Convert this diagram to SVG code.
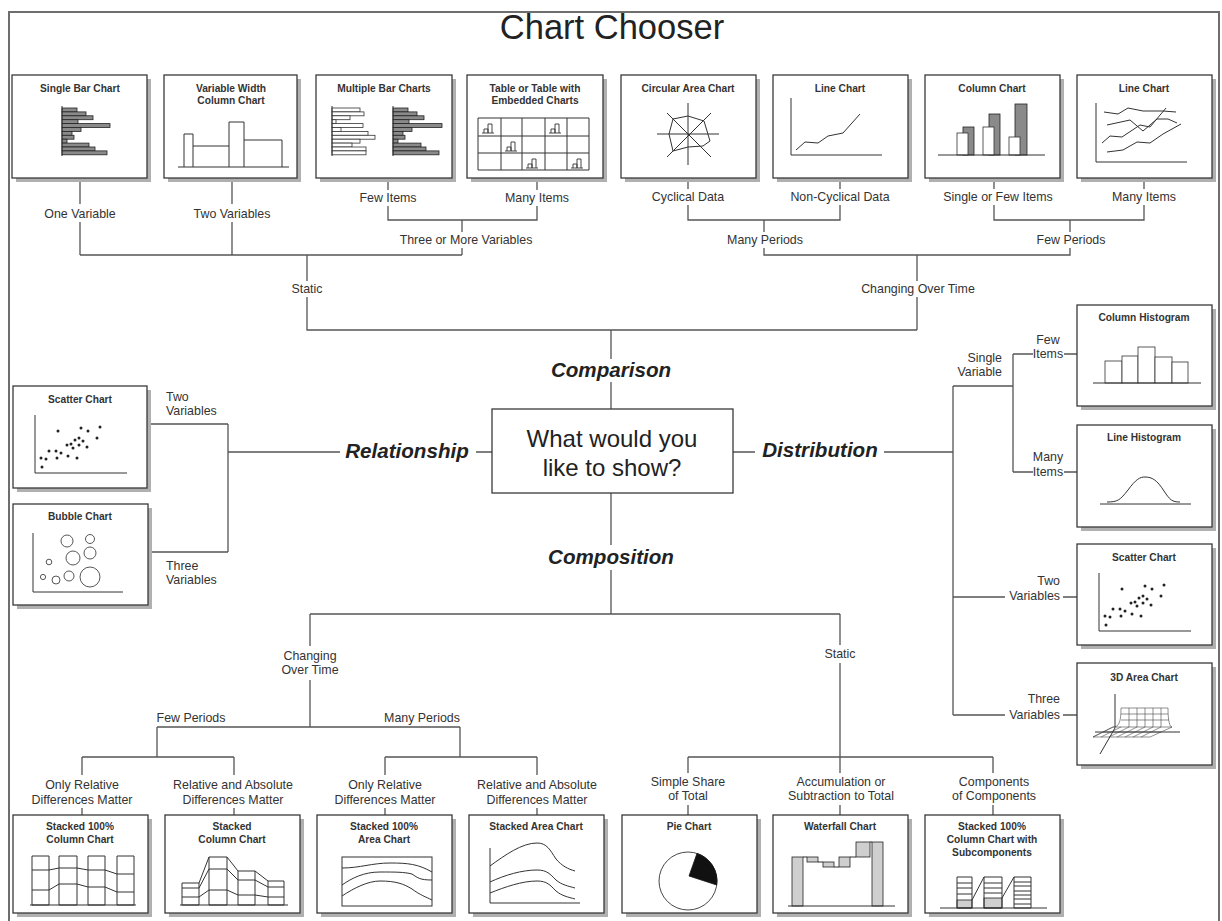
<svg xmlns="http://www.w3.org/2000/svg" width="1222" height="921" viewBox="0 0 1222 921">
<style>
.frame{fill:none;stroke:#6e6e6e;stroke-width:2}
.sh{fill:#b0b0b0}
.bx{fill:#fff;stroke:#3a3a3a;stroke-width:1.3}
.tt{font-family:"Liberation Sans",Arial,sans-serif;font-weight:bold;font-size:10.2px;fill:#333;text-anchor:middle}
.lb{font-family:"Liberation Sans",Arial,sans-serif;font-size:12.4px;fill:#333;text-anchor:middle}
.lr{font-family:"Liberation Sans",Arial,sans-serif;font-size:12.4px;fill:#333;text-anchor:end}
.ll{font-family:"Liberation Sans",Arial,sans-serif;font-size:12.4px;fill:#333;text-anchor:start}
.cat{font-family:"Liberation Sans",Arial,sans-serif;font-weight:bold;font-style:italic;font-size:20.6px;fill:#222;text-anchor:middle}
.q{font-family:"Liberation Sans",Arial,sans-serif;font-size:24px;fill:#222;text-anchor:middle}
.ln{fill:none;stroke:#555;stroke-width:1.3}
.c{fill:none;stroke:#333;stroke-width:1}
.cw{fill:#fff;stroke:#333;stroke-width:0.8}
.cg{fill:#8a8a8a;stroke:#222;stroke-width:0.8}
.cl{fill:#cfcfcf;stroke:#222;stroke-width:0.8}
.d{fill:#222}
</style>
<defs>
<g id="ico"><path d="M0 9 H12 M2 9 V5 H6 V9 M6 9 V0 H10 V9" fill="none" stroke="#333" stroke-width="0.9"/></g>
<g id="dots">
<circle class="d" cx="58" cy="431" r="1.5"/><circle class="d" cx="81" cy="428" r="1.5"/><circle class="d" cx="88" cy="431" r="1.5"/><circle class="d" cx="100" cy="427" r="1.5"/><circle class="d" cx="97" cy="438" r="1.5"/><circle class="d" cx="79" cy="438" r="1.5"/><circle class="d" cx="75" cy="440" r="1.5"/><circle class="d" cx="83" cy="441" r="1.5"/><circle class="d" cx="87" cy="447" r="1.5"/><circle class="d" cx="71" cy="444" r="1.5"/><circle class="d" cx="67" cy="445" r="1.5"/><circle class="d" cx="73" cy="448" r="1.5"/><circle class="d" cx="79" cy="445" r="1.5"/><circle class="d" cx="61" cy="453" r="1.5"/><circle class="d" cx="56" cy="451" r="1.5"/><circle class="d" cx="49" cy="451" r="1.5"/><circle class="d" cx="41" cy="458" r="1.5"/><circle class="d" cx="46" cy="459" r="1.5"/><circle class="d" cx="57" cy="458" r="1.5"/><circle class="d" cx="68" cy="456" r="1.5"/><circle class="d" cx="77" cy="458" r="1.5"/><circle class="d" cx="42" cy="467" r="1.5"/>
<path class="c" d="M35 415 V473 H127"/>
</g>
</defs>
<rect width="1222" height="921" fill="#fff"/>
<path class="frame" d="M9 921 V12 H1219 V921"/>
<text x="612" y="39" font-family="Liberation Sans,Arial,sans-serif" font-size="34.5" fill="#222" text-anchor="middle">Chart Chooser</text>

<g id="connectors">
<path class="ln" d="M80 178 V204 M80 222 V255 M232 178 V204 M232 222 V255 M388 178 V190 M388 206 V220 H537 V206 M537 190 V178 M462 220 V232 M462 248 V255 M80 255 H462 M307 255 V281 M307 297 V330 H917 M611 330 V359 M611 382 V409 M688 178 V189 M688 205 V220 H840 V205 M840 189 V178 M764 220 V232 M764 248 V255 H1070 V248 M1070 232 V220 M994 178 V189 M994 205 V220 H1144 V205 M1144 189 V178 M917 255 V281 M917 297 V330"/>
<path class="ln" d="M492 452 H476 M340 452 H228 M228 424 V552 M147 424 H228 M148 552 H228"/>
<path class="ln" d="M733 452 H755 M884 452 H953 M953 386 V715 M953 386 H1013 M1013 354 V472 M1013 354 H1033 M1064 354 H1077 M1013 472 H1033 M1064 472 H1077 M953 597 H1005 M1063 597 H1077 M953 715 H1005 M1063 715 H1077"/>
<path class="ln" d="M611 493 V545 M611 570 V614 M310 614 H840 M310 614 V646 M310 680 V727 M157 727 H460 M157 727 V757 M460 727 V757 M82 757 H234 M385 757 H537 M82 757 V775 M82 808 V815 M234 757 V775 M234 808 V815 M385 757 V775 M385 808 V815 M537 757 V775 M537 808 V815 M840 614 V645 M840 663 V757 M688 757 H993 M688 757 V773 M688 805 V815 M840 757 V773 M840 805 V815 M993 757 V773 M993 805 V815"/>
<text class="lb" x="80" y="218">One Variable</text>
<text class="lb" x="232" y="218">Two Variables</text>
<text class="lb" x="388" y="202">Few Items</text>
<text class="lb" x="537" y="202">Many Items</text>
<text class="lb" x="466" y="244">Three or More Variables</text>
<text class="lb" x="688" y="201">Cyclical Data</text>
<text class="lb" x="840" y="201">Non-Cyclical Data</text>
<text class="lb" x="998" y="201">Single or Few Items</text>
<text class="lb" x="1144" y="201">Many Items</text>
<text class="lb" x="765" y="244">Many Periods</text>
<text class="lb" x="1071" y="244">Few Periods</text>
<text class="lb" x="307" y="293">Static</text>
<text class="lb" x="918" y="293">Changing Over Time</text>
<text class="cat" x="611" y="377">Comparison</text>
<text class="cat" x="407" y="458">Relationship</text>
<text class="cat" x="820" y="457">Distribution</text>
<text class="cat" x="611" y="564">Composition</text>
<text class="ll" x="166" y="401">Two</text>
<text class="ll" x="166" y="415">Variables</text>
<text class="ll" x="166" y="570">Three</text>
<text class="ll" x="166" y="584">Variables</text>
<text class="lr" x="1002" y="362">Single</text>
<text class="lr" x="1002" y="376">Variable</text>
<text class="lb" x="1048" y="344">Few</text>
<text class="lb" x="1048" y="358">Items</text>
<text class="lb" x="1048" y="461">Many</text>
<text class="lb" x="1048" y="476">Items</text>
<text class="lr" x="1060" y="585">Two</text>
<text class="lr" x="1060" y="600">Variables</text>
<text class="lr" x="1060" y="703">Three</text>
<text class="lr" x="1060" y="719">Variables</text>
<text class="lb" x="310" y="660">Changing</text>
<text class="lb" x="310" y="674">Over Time</text>
<text class="lb" x="191" y="722">Few Periods</text>
<text class="lb" x="422" y="722">Many Periods</text>
<text class="lb" x="840" y="658">Static</text>
<text class="lb" x="82" y="789">Only Relative</text>
<text class="lb" x="82" y="804">Differences Matter</text>
<text class="lb" x="233" y="789">Relative and Absolute</text>
<text class="lb" x="233" y="804">Differences Matter</text>
<text class="lb" x="385" y="789">Only Relative</text>
<text class="lb" x="385" y="804">Differences Matter</text>
<text class="lb" x="537" y="789">Relative and Absolute</text>
<text class="lb" x="537" y="804">Differences Matter</text>
<text class="lb" x="688" y="786">Simple Share</text>
<text class="lb" x="688" y="800">of Total</text>
<text class="lb" x="841" y="786">Accumulation or</text>
<text class="lb" x="841" y="800">Subtraction to Total</text>
<text class="lb" x="994" y="786">Components</text>
<text class="lb" x="994" y="800">of Components</text>
</g>

<g id="center">
<rect class="bx" x="492" y="409" width="241" height="84"/>
<text class="q" x="612" y="447">What would you</text>
<text class="q" x="612" y="476">like to show?</text>
</g>

<g id="single-bar">
<rect class="sh" x="16" y="79" width="135" height="103"/><rect class="bx" x="12" y="75" width="135" height="103"/>
<text class="tt" x="80" y="92">Single Bar Chart</text>
<rect class="cg" x="62" y="108" width="15" height="3.9"/><rect class="cg" x="62" y="111.9" width="24" height="3.9"/><rect class="cg" x="62" y="115.8" width="31" height="3.9"/><rect class="cg" x="62" y="119.7" width="16" height="3.9"/><rect class="cg" x="62" y="123.6" width="48" height="3.9"/><rect class="cg" x="62" y="127.5" width="19" height="3.9"/><rect class="cg" x="62" y="131.4" width="10" height="3.9"/><rect class="cg" x="62" y="135.3" width="12" height="3.9"/><rect class="cg" x="62" y="139.2" width="5" height="3.9"/><rect class="cg" x="62" y="143.1" width="27" height="3.9"/><rect class="cg" x="62" y="147" width="33" height="3.9"/><rect class="cg" x="62" y="150.9" width="45" height="3.9"/>
<path class="c" d="M62 106 V156"/>
</g>

<g id="variable-width">
<rect class="sh" x="168" y="79" width="133" height="103"/><rect class="bx" x="164" y="75" width="133" height="103"/>
<text class="tt" x="231" y="92">Variable Width</text><text class="tt" x="231" y="104">Column Chart</text>
<path class="c" d="M184 167 V134 H193 V167 M193 146 H229 M229 167 V122 H244 V167 M244 140 H282 V167 M178 167 H289"/>
</g>

<g id="multiple-bar">
<rect class="sh" x="320" y="79" width="136" height="103"/><rect class="bx" x="316" y="75" width="136" height="103"/>
<text class="tt" x="384" y="92">Multiple Bar Charts</text>
<rect class="cw" x="332" y="108" width="28" height="3.9"/><rect class="cw" x="332" y="111.9" width="32" height="3.9"/><rect class="cw" x="332" y="115.8" width="18" height="3.9"/><rect class="cw" x="332" y="119.7" width="4" height="3.9"/><rect class="cw" x="332" y="123.6" width="31" height="3.9"/><rect class="cw" x="332" y="127.5" width="9" height="3.9"/><rect class="cw" x="332" y="131.4" width="36" height="3.9"/><rect class="cw" x="332" y="135.3" width="43" height="3.9"/><rect class="cw" x="332" y="139.2" width="28" height="3.9"/><rect class="cw" x="332" y="143.1" width="20" height="3.9"/><rect class="cw" x="332" y="147" width="34" height="3.9"/><rect class="cw" x="332" y="150.9" width="34" height="3.9"/>
<path class="c" d="M332 106 V156"/>
<rect class="cg" x="393" y="108" width="15" height="3.9"/><rect class="cg" x="393" y="111.9" width="24" height="3.9"/><rect class="cg" x="393" y="115.8" width="31" height="3.9"/><rect class="cg" x="393" y="119.7" width="16" height="3.9"/><rect class="cg" x="393" y="123.6" width="49" height="3.9"/><rect class="cg" x="393" y="127.5" width="19" height="3.9"/><rect class="cg" x="393" y="131.4" width="10" height="3.9"/><rect class="cg" x="393" y="135.3" width="12" height="3.9"/><rect class="cg" x="393" y="139.2" width="5" height="3.9"/><rect class="cg" x="393" y="143.1" width="28" height="3.9"/><rect class="cg" x="393" y="147" width="33" height="3.9"/><rect class="cg" x="393" y="150.9" width="46" height="3.9"/>
<path class="c" d="M393 106 V156"/>
</g>

<g id="table">
<rect class="sh" x="471" y="79" width="136" height="103"/><rect class="bx" x="467" y="75" width="136" height="103"/>
<text class="tt" x="535" y="92">Table or Table with</text><text class="tt" x="535" y="104">Embedded Charts</text>
<path class="c" d="M478 118 H589 V170 H478 Z M501 118 V170 M522 118 V170 M545 118 V170 M567 118 V170 M478 136 H589 M478 153 H589"/>
<use href="#ico" x="482" y="124"/><use href="#ico" x="549" y="124"/><use href="#ico" x="505" y="142"/><use href="#ico" x="526" y="159"/><use href="#ico" x="571" y="159"/>
</g>

<g id="circular-area">
<rect class="sh" x="625" y="79" width="135" height="103"/><rect class="bx" x="621" y="75" width="135" height="103"/>
<text class="tt" x="688" y="92">Circular Area Chart</text>
<path class="c" d="M688 103 V165 M657 134 H719 M667 113 L711 157 M711 113 L667 157"/>
<polygon class="c" points="673,119 688,116 704,121 710,141 703,146 688,147 673,151 669,134"/>
</g>

<g id="line-chart-1">
<rect class="sh" x="777" y="79" width="135" height="103"/><rect class="bx" x="773" y="75" width="135" height="103"/>
<text class="tt" x="840" y="92">Line Chart</text>
<path class="c" d="M791 98 V155 H882"/>
<polyline class="c" points="796,150 805,142 818,143 828,136 843,133 860,114"/>
</g>

<g id="column-chart">
<rect class="sh" x="929" y="79" width="135" height="103"/><rect class="bx" x="925" y="75" width="135" height="103"/>
<text class="tt" x="992" y="92">Column Chart</text>
<rect class="cg" x="963" y="127" width="11" height="28"/><rect class="cw" x="957" y="133" width="11" height="22"/>
<rect class="cg" x="989" y="114" width="11" height="41"/><rect class="cw" x="983" y="127" width="11" height="28"/>
<rect class="cg" x="1015" y="104" width="12" height="51"/><rect class="cw" x="1009" y="137" width="11" height="18"/>
<path class="c" d="M938 155 H1045"/>
</g>

<g id="line-chart-2">
<rect class="sh" x="1081" y="79" width="135" height="103"/><rect class="bx" x="1077" y="75" width="135" height="103"/>
<text class="tt" x="1144" y="92">Line Chart</text>
<path class="c" d="M1096 103 V162 H1187"/>
<polyline class="c" points="1104,112 1118,114 1128,108 1143,111 1163,111 1176,112"/>
<polyline class="c" points="1107,125 1130,120 1143,131 1157,119 1168,119 1177,123"/>
<polyline class="c" points="1102,143 1110,136 1122,137 1140,125 1150,127 1166,108"/>
<polyline class="c" points="1107,152 1123,150 1137,142 1150,143 1163,134 1181,124"/>
</g>

<g id="scatter-left">
<rect class="sh" x="17" y="390" width="134" height="102"/><rect class="bx" x="13" y="386" width="134" height="102"/>
<text class="tt" x="80" y="403">Scatter Chart</text>
<use href="#dots"/>
</g>

<g id="bubble">
<rect class="sh" x="17" y="508" width="135" height="101"/><rect class="bx" x="13" y="504" width="135" height="101"/>
<text class="tt" x="80" y="520">Bubble Chart</text>
<path class="c" d="M33 533 V592 H123"/>
<g fill="none" stroke="#444" stroke-width="0.9">
<circle cx="67" cy="541" r="6"/><circle cx="90" cy="539" r="4.5"/><circle cx="73" cy="558" r="7"/><circle cx="90" cy="553" r="6"/><circle cx="49" cy="562" r="2.8"/><circle cx="43" cy="577" r="2.6"/><circle cx="56" cy="580" r="4"/><circle cx="69" cy="576" r="5"/><circle cx="90" cy="577" r="10"/>
</g>
</g>

<g id="column-histogram">
<rect class="sh" x="1081" y="309" width="135" height="101"/><rect class="bx" x="1077" y="305" width="135" height="101"/>
<text class="tt" x="1144" y="321">Column Histogram</text>
<rect class="cw" x="1105" y="361" width="17" height="22"/><rect class="cw" x="1122" y="356" width="16" height="27"/><rect class="cw" x="1138" y="347" width="17" height="36"/><rect class="cw" x="1155" y="357" width="17" height="26"/><rect class="cw" x="1172" y="362" width="16" height="21"/>
<path class="c" d="M1093 383 H1201"/>
</g>

<g id="line-histogram">
<rect class="sh" x="1081" y="429" width="135" height="102"/><rect class="bx" x="1077" y="425" width="135" height="102"/>
<text class="tt" x="1144" y="441">Line Histogram</text>
<path class="c" d="M1100 504 H1191 M1107 502 C1118 502 1120 500 1128 490 C1136 479 1140 477 1145 477 C1152 477 1157 480 1164 491 C1170 500 1172 502 1180 502"/>
</g>

<g id="scatter-right">
<rect class="sh" x="1081" y="548" width="135" height="101"/><rect class="bx" x="1077" y="544" width="135" height="101"/>
<text class="tt" x="1144" y="561">Scatter Chart</text>
<use href="#dots" transform="translate(1064,158)"/>
</g>

<g id="area-3d">
<rect class="sh" x="1081" y="667" width="135" height="102"/><rect class="bx" x="1077" y="663" width="135" height="102"/>
<text class="tt" x="1144" y="681">3D Area Chart</text>
<path class="c" d="M1115 694 V728 M1095 732 H1180 M1100 754 L1115 728"/>
<g fill="none" stroke="#444" stroke-width="0.6">
<path d="M1093 737 H1150 L1172 727 H1113 Z M1093 737 L1113 727 M1101 737 L1121 727 M1109 737 L1129 727 M1117 737 L1137 727 M1125 737 L1145 727 M1133 737 L1153 727 M1141 737 L1161 727 M1103 732 H1161"/>
<path d="M1113 727 C1119 727 1121 722 1121 708 H1168 C1168 722 1170 727 1172 727 M1129 727 C1129 722 1129 716 1129 708 M1137 727 C1137 722 1137 716 1137 708 M1145 727 C1145 722 1145 716 1145 708 M1153 727 C1153 722 1153 716 1153 708 M1161 727 C1161 722 1161 716 1161 708 M1121 714 H1168 M1121 720 H1169"/>
</g>
</g>

<g id="stacked-100-column">
<rect class="sh" x="17" y="819" width="135" height="98"/><rect class="bx" x="13" y="815" width="135" height="98"/>
<text class="tt" x="80" y="830">Stacked 100%</text><text class="tt" x="80" y="843">Column Chart</text>
<path class="c" d="M32 856 H49 V905 H32 Z M59 856 H77 V905 H59 Z M88 856 H105 V905 H88 Z M117 856 H134 V905 H117 Z M32 870 H49 L59 868 H77 L88 870 H105 L117 874 H134 M32 890 H49 L59 884 H77 L88 887 H105 L117 892 H134 M30 905 H136"/>
</g>

<g id="stacked-column">
<rect class="sh" x="169" y="819" width="135" height="98"/><rect class="bx" x="165" y="815" width="135" height="98"/>
<text class="tt" x="232" y="830">Stacked</text><text class="tt" x="232" y="843">Column Chart</text>
<path class="c" d="M182 883 H199 V905 H182 Z M209 857 H227 V905 H209 Z M238 871 H255 V905 H238 Z M268 881 H284 V905 H268 Z M199 883 L209 857 M227 857 L238 871 M255 871 L268 881 M182 888 H199 L209 869 H227 L238 880 H255 L268 887 H284 M182 897 H199 L209 890 H227 L238 895 H255 L268 897 H284 M180 905 H288"/>
</g>

<g id="stacked-100-area">
<rect class="sh" x="321" y="819" width="135" height="98"/><rect class="bx" x="317" y="815" width="135" height="98"/>
<text class="tt" x="384" y="830">Stacked 100%</text><text class="tt" x="384" y="843">Area Chart</text>
<rect class="c" x="342" y="857" width="90" height="49"/>
<path class="c" d="M342 868 C360 868 372 863 390 863 C408 863 418 864 432 872 M342 885 C352 878 364 872 380 872 C396 872 404 872 412 874 C418 878 420 880 432 880 M342 896 C354 888 368 881 380 881 C396 881 404 884 412 889 C420 895 426 897 432 900"/>
</g>

<g id="stacked-area">
<rect class="sh" x="473" y="819" width="135" height="98"/><rect class="bx" x="469" y="815" width="135" height="98"/>
<text class="tt" x="536" y="830">Stacked Area Chart</text>
<path class="c" d="M490 848 V903 H580 M490 866 C505 855 522 843 537 843 C547 843 550 850 556 859 C562 866 568 869 575 871 M490 882 C505 875 522 870 537 870 C547 870 550 874 556 880 C562 885 568 886 575 888 M490 893 C505 887 522 881 537 881 C547 881 550 885 556 891 C562 896 568 897 575 899"/>
</g>

<g id="pie">
<rect class="sh" x="626" y="819" width="135" height="98"/><rect class="bx" x="622" y="815" width="135" height="98"/>
<text class="tt" x="689" y="830">Pie Chart</text>
<circle cx="688" cy="881" r="29" fill="#fff" stroke="#333" stroke-width="0.9"/>
<path d="M689 876 L697 853.4 A29 29 0 0 1 716.7 885 Z" fill="#111" stroke="#111" stroke-width="0.8"/>
</g>

<g id="waterfall">
<rect class="sh" x="777" y="819" width="135" height="98"/><rect class="bx" x="773" y="815" width="135" height="98"/>
<text class="tt" x="840" y="830">Waterfall Chart</text>
<rect class="cl" x="792" y="857" width="11" height="49"/><rect class="cl" x="807" y="857" width="11" height="5"/><rect class="cl" x="823" y="862" width="11" height="5"/><rect class="cl" x="839" y="857" width="11" height="10"/><rect class="cl" x="856" y="842" width="14" height="15"/><rect class="cl" x="872" y="842" width="11" height="64"/>
<path class="c" d="M803 857 H807 M818 862 H823 M834 867 H839 M850 857 H856 M870 842 H872 M788 906 H895"/>
</g>

<g id="stacked-subcomponents">
<rect class="sh" x="929" y="819" width="135" height="98"/><rect class="bx" x="925" y="815" width="135" height="98"/>
<text class="tt" x="992" y="830">Stacked 100%</text><text class="tt" x="992" y="843">Column Chart with</text><text class="tt" x="992" y="856">Subcomponents</text>
<rect class="cl" x="957" y="900" width="15" height="8"/><rect class="cl" x="984" y="898" width="18" height="10"/>
<path class="c" d="M957 877 H972 V908 H957 Z M984 877 H1002 V908 H984 Z M1014 877 H1031 V908 H1014 Z M957 883 H972 M957 888 H972 M957 894 H972 M984 883 H1002 M984 888 H1002 M984 893 H1002 M1014 882 H1031 M1014 886 H1031 M1014 891 H1031 M1014 895 H1031 M1014 899 H1031 M1014 904 H1031 M972 900 L984 877 M1002 898 L1014 877 M940 908 H1047"/>
</g>
</svg>
